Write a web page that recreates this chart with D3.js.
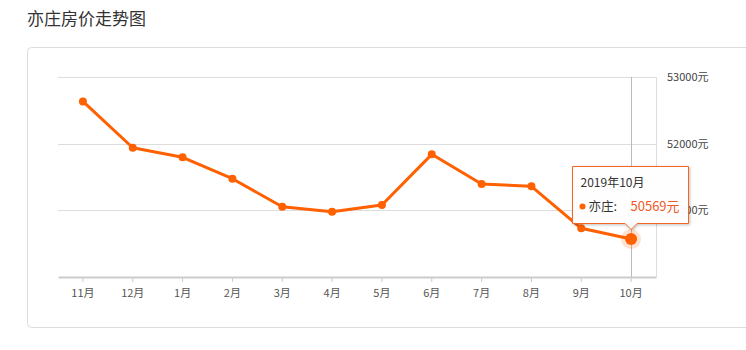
<!DOCTYPE html>
<html>
<head>
<meta charset="utf-8">
<script src="https://cdn.jsdelivr.net/npm/d3@7"></script>
<style>
  body { margin: 0; background: #fff; font-family: "Microsoft YaHei", "Noto Sans CJK SC", sans-serif; }
</style>
</head>
<body>
<div id="chart-area"></div>
<script>
// monthly average price, Yizhuang
var months = ["11月", "12月", "1月", "2月", "3月", "4月", "5月", "6月", "7月", "8月", "9月", "10月"];
var prices = [52634, 51939, 51795, 51474, 51054, 50979, 51079, 51840, 51394, 51360, 50730, 50569];
var yTicks = [50000, 51000, 52000, 53000];
var tipTitle = "2019年10月";
var seriesName = "亦庄";
var orange = "#ff6000";

var svg = d3.select("#chart-area").append("svg")
  .attr("width", 746)
  .attr("height", 350);

svg.append("text")
  .attr("x", 27).attr("y", 25)
  .style("font-size", "17px")
  .style("fill", "#333")
  .text("亦庄房价走势图");

svg.append("rect")
  .attr("x", 27.5).attr("y", 47.5)
  .attr("width", 730).attr("height", 280)
  .attr("rx", 4)
  .attr("fill", "none")
  .attr("stroke", "#ddd");

var x = d3.scaleBand()
  .domain(months)
  .range([58, 656]);

var y = d3.scaleLinear()
  .domain([50000, 53000])
  .range([277, 77]);

// gridlines
svg.selectAll(".grid").data(yTicks.slice(1)).enter()
  .append("line")
  .attr("x1", 58).attr("x2", 656)
  .attr("y1", d => Math.round(y(d)) + 0.5)
  .attr("y2", d => Math.round(y(d)) + 0.5)
  .attr("stroke", "#ddd");

// right axis line
svg.append("line")
  .attr("x1", 656.5).attr("x2", 656.5)
  .attr("y1", 77).attr("y2", 277)
  .attr("stroke", "#ddd");

svg.selectAll(".ylab").data(yTicks.slice(1)).enter()
  .append("text")
  .attr("x", 667)
  .attr("y", d => y(d) + 4)
  .style("font-size", "11px")
  .style("fill", "#444")
  .text(d => d + "元");

// bottom axis
var xAxis = svg.append("g")
  .attr("transform", "translate(0,277)")
  .call(d3.axisBottom(x).tickSize(5).tickPadding(7).tickSizeOuter(0));
xAxis.select(".domain").attr("stroke", "#ccc").attr("stroke-width", 2);
xAxis.selectAll(".tick line").attr("stroke", "#ccc");
xAxis.selectAll("text")
  .style("font-size", "11px")
  .style("fill", "#555")
  .style("font-family", "\"Microsoft YaHei\", \"Noto Sans CJK SC\", sans-serif");

var cx = d => x(d) + x.bandwidth() / 2;

// crosshair
var last = months.length - 1;
svg.append("line")
  .attr("x1", Math.round(cx(months[last])) + 0.5)
  .attr("x2", Math.round(cx(months[last])) + 0.5)
  .attr("y1", 77).attr("y2", 277)
  .attr("stroke", "#bbb");

var line = d3.line()
  .x((d, i) => cx(months[i]))
  .y(d => y(d));

svg.append("path")
  .datum(prices)
  .attr("d", line)
  .attr("fill", "none")
  .attr("stroke", orange)
  .attr("stroke-width", 3)
  .attr("stroke-linejoin", "round");

svg.selectAll(".dot").data(prices).enter()
  .append("circle")
  .attr("cx", (d, i) => cx(months[i]))
  .attr("cy", d => y(d))
  .attr("r", 4)
  .attr("fill", orange);

// highlighted last point
var hx = cx(months[last]), hy = y(prices[last]);
svg.append("circle")
  .attr("cx", hx).attr("cy", hy).attr("r", 10)
  .attr("fill", orange).attr("fill-opacity", 0.18);
svg.append("circle")
  .attr("cx", hx).attr("cy", hy).attr("r", 6)
  .attr("fill", orange);

// tooltip
var defs = svg.append("defs");
var f = defs.append("filter").attr("id", "sh").attr("x", "-20%").attr("y", "-20%").attr("width", "140%").attr("height", "150%");
f.append("feDropShadow").attr("dx", 1).attr("dy", 1).attr("stdDeviation", 1.5).attr("flood-color", "#000").attr("flood-opacity", 0.25);

var tx = 572.5, ty = 166.5, tw = 116, th = 57;
var tip = svg.append("g");
tip.append("path")
  .attr("d", "M" + tx + "," + ty + "h" + tw + "v" + th +
    "H" + (hx + 6) + "l-6,6l-6,-6H" + tx + "Z")
  .attr("fill", "#fff")
  .attr("fill-opacity", 0.96)
  .attr("stroke", "#f26522")
  .attr("filter", "url(#sh)");
tip.append("text")
  .attr("x", tx + 8).attr("y", ty + 20)
  .style("font-size", "12px")
  .style("fill", "#333")
  .text(tipTitle);
tip.append("circle")
  .attr("cx", tx + 10).attr("cy", ty + 40).attr("r", 3)
  .attr("fill", orange);
tip.append("text")
  .attr("x", tx + 16).attr("y", ty + 44)
  .style("font-size", "12.5px")
  .style("fill", "#333")
  .text(seriesName + ":");
tip.append("text")
  .attr("x", tx + 58).attr("y", ty + 44)
  .style("font-size", "13px")
  .style("fill", "#f05a28")
  .text(prices[last] + "元");
</script>
</body>
</html>
